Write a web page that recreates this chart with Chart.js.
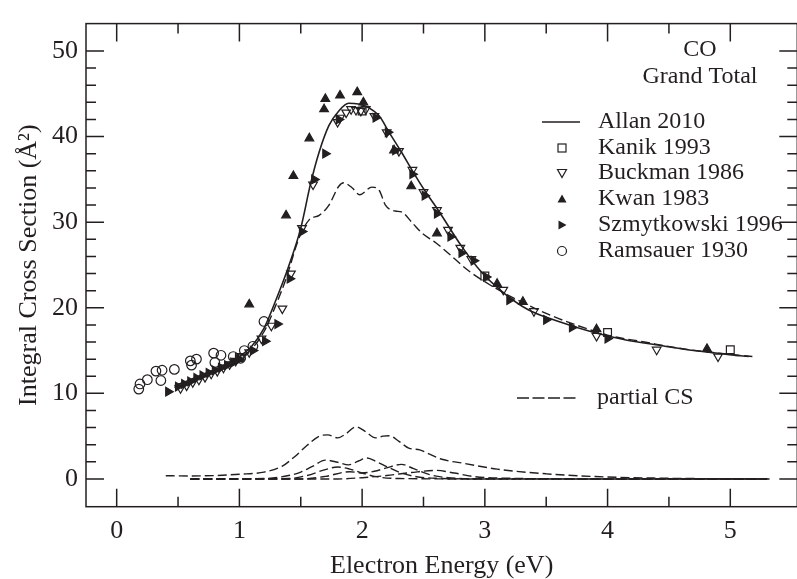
<!DOCTYPE html>
<html>
<head>
<meta charset="utf-8">
<script src="https://cdn.jsdelivr.net/npm/chart.js@4.4.1/dist/chart.umd.min.js"></script>
<style>
html, body { margin: 0; padding: 0; background: #fff; overflow: hidden; }
#wrap { position: relative; width: 804px; height: 579px; }
</style>
</head>
<body>
<div id="wrap"><canvas id="c"></canvas></div>
<script>
// axis ticks
const xTicks = [0, 1, 2, 3, 4, 5];
const xMinor = [0.5, 1.5, 2.5, 3.5, 4.5];
const yTicks = [0, 10, 20, 30, 40, 50];
const yMinor = [2, 4, 6, 8, 12, 14, 16, 18, 22, 24, 26, 28, 32, 34, 36, 38, 42, 44, 46, 48];

// Allan 2010 grand total (solid)
const allanE = [0.47, 0.6, 0.7, 0.8, 0.9, 1.0, 1.1, 1.2, 1.3, 1.4, 1.5, 1.58, 1.65, 1.73, 1.81, 1.89, 1.97, 2.05, 2.14, 2.22, 2.32, 2.41, 2.51, 2.62, 2.81, 2.97, 3.14, 3.35, 3.62, 3.89, 4.16, 4.43, 4.70, 5.08, 5.15];
const allanCS = [10.9, 11.6, 12.2, 12.8, 13.5, 14.3, 15.5, 17.6, 21.0, 24.8, 29.3, 34.5, 38.2, 41.3, 43.0, 43.9, 43.8, 43.4, 42.4, 40.5, 38.2, 36.0, 33.7, 31.4, 27.2, 24.2, 21.9, 19.8, 18.3, 17.1, 16.2, 15.6, 15.0, 14.4, 14.3];

// sum of partial CS (dashed)
const sumE = [0.47, 0.6, 0.7, 0.8, 0.9, 1.0, 1.1, 1.2, 1.3, 1.38, 1.49, 1.57, 1.65, 1.73, 1.81, 1.85, 1.92, 1.98, 2.08, 2.14, 2.19, 2.27, 2.32, 2.41, 2.49, 2.60, 2.70, 2.87, 3.05, 3.24, 3.49, 3.76, 4.03, 4.30, 4.57, 4.84, 5.18];
const sumCS = [10.7, 11.4, 12.0, 12.6, 13.3, 14.1, 15.2, 17.2, 20.4, 23.4, 28.3, 30.3, 30.8, 32.0, 34.2, 34.6, 34.0, 33.2, 34.1, 33.7, 32.0, 31.3, 31.2, 29.9, 28.7, 27.6, 26.4, 24.3, 22.6, 21.1, 19.4, 17.9, 16.7, 16.0, 15.3, 14.8, 14.3];

// partial cross sections
const p1E = [0.40, 0.6, 0.8, 1.0, 1.2, 1.35, 1.45, 1.55, 1.65, 1.72, 1.80, 1.87, 1.95, 2.03, 2.11, 2.17, 2.22, 2.30, 2.38, 2.47, 2.55, 2.65, 2.84, 3.1, 3.5, 3.9, 4.4, 5.0, 5.32];
const p1CS = [0.38, 0.35, 0.4, 0.55, 0.8, 1.5, 2.6, 3.9, 5.0, 5.15, 4.8, 5.3, 6.1, 5.5, 4.8, 5.0, 5.05, 4.4, 3.6, 3.4, 2.9, 2.3, 1.8, 1.15, 0.6, 0.28, 0.1, 0.02, 0.0];
const p2E = [0.6, 1.2, 1.4, 1.5, 1.6, 1.7, 1.8, 1.89, 1.97, 2.04, 2.12, 2.2, 2.3, 2.43, 2.6, 3.0, 5.3];
const p2CS = [0, 0.05, 0.4, 0.8, 1.5, 2.2, 1.95, 1.65, 2.1, 2.45, 2.0, 1.45, 0.8, 0.3, 0.08, 0, 0];
const p3E = [0.6, 1.4, 1.55, 1.7, 1.8, 1.9, 2.0, 2.1, 2.3, 3.0, 5.3];
const p3CS = [0, 0.05, 0.4, 1.1, 1.4, 1.15, 0.7, 0.3, 0.05, 0, 0];
const p4E = [0.6, 1.5, 1.7, 1.9, 2.0, 2.1, 2.2, 2.32, 2.42, 2.55, 2.7, 3.0, 5.3];
const p4CS = [0, 0, 0.3, 0.85, 0.7, 0.9, 1.3, 1.7, 1.2, 0.5, 0.15, 0.02, 0];
const p5E = [0.6, 1.8, 2.0, 2.2, 2.4, 2.6, 2.75, 2.9, 3.2, 4.0, 5.3];
const p5CS = [0, 0, 0.15, 0.4, 0.75, 1.0, 0.7, 0.3, 0.08, 0, 0];

// measurements
const kanikE = [1.0, 2.0, 3.0, 4.0, 5.0];
const kanikCS = [14.2, 43.0, 23.7, 17.1, 15.1];
const buckmanE = [0.52, 0.57, 0.62, 0.67, 0.72, 0.77, 0.82, 0.87, 0.92, 0.97, 1.02, 1.08, 1.18, 1.26, 1.35, 1.42, 1.51, 1.60, 1.80, 1.82, 1.87, 1.91, 1.95, 1.99, 2.03, 2.10, 2.20, 2.30, 2.41, 2.50, 2.61, 2.70, 2.80, 2.89, 3.15, 3.40, 3.91, 4.40, 4.90];
const buckmanCS = [10.6, 10.9, 11.3, 11.6, 11.9, 12.3, 12.6, 13.0, 13.4, 13.8, 14.3, 14.8, 16.4, 17.9, 19.9, 24.0, 29.3, 34.4, 41.7, 42.2, 42.8, 43.2, 43.1, 43.0, 43.2, 42.4, 40.5, 38.3, 36.1, 33.5, 31.4, 29.1, 27.0, 25.7, 22.1, 19.6, 16.7, 15.1, 14.3];
const kwanE = [1.08, 1.38, 1.44, 1.57, 1.69, 1.70, 1.82, 1.96, 2.01, 2.26, 2.40, 2.61, 3.10, 3.31, 3.91, 4.81];
const kwanCS = [20.4, 30.8, 35.4, 39.8, 43.2, 44.4, 44.8, 45.2, 44.0, 38.4, 34.2, 28.7, 22.8, 20.7, 17.5, 15.2];
const szmytE = [0.42, 0.50, 0.55, 0.60, 0.65, 0.70, 0.75, 0.80, 0.85, 0.90, 0.95, 1.00, 1.11, 1.21, 1.31, 1.41, 1.51, 1.61, 1.70, 1.81, 2.11, 2.21, 2.27, 2.41, 2.51, 2.61, 2.72, 2.81, 2.91, 3.01, 3.20, 3.50, 3.71, 4.00];
const szmytCS = [10.2, 10.8, 11.1, 11.4, 11.8, 12.1, 12.4, 12.7, 13.0, 13.3, 13.6, 14.0, 15.0, 16.1, 18.1, 23.4, 28.9, 35.0, 38.0, 42.0, 42.2, 40.5, 38.4, 35.6, 33.1, 31.0, 28.3, 26.4, 25.5, 23.6, 20.9, 18.6, 17.7, 16.4];
const ramsE = [0.18, 0.19, 0.25, 0.32, 0.36, 0.37, 0.47, 0.60, 0.61, 0.65, 0.79, 0.80, 0.85, 0.95, 1.01, 1.04, 1.11, 1.20];
const ramsCS = [10.5, 11.1, 11.6, 12.6, 11.5, 12.7, 12.8, 13.8, 13.3, 14.0, 14.7, 13.6, 14.45, 14.3, 14.1, 15.0, 15.5, 18.4];

const ink = '#231f20';
const serif = '"Liberation Serif", "DejaVu Serif", serif';
const pts = (xs, ys) => xs.map((x, i) => ({ x: x, y: ys[i] }));

function marker(label, xs, ys, style, rotation, filled, radius) {
    return {
        label: label,
        data: pts(xs, ys),
        pointStyle: style,
        rotation: rotation,
        pointRadius: radius,
        pointBorderWidth: 1.2,
        pointBorderColor: ink,
        pointBackgroundColor: filled ? ink : 'rgba(255,255,255,0)',
        showLine: false,
    };
}

function curve(label, xs, ys, dashed) {
    return {
        label: label,
        data: pts(xs, ys),
        showLine: true,
        pointRadius: 0,
        borderColor: ink,
        borderWidth: dashed ? 1.4 : 1.6,
        borderDash: dashed ? [9, 4] : [],
        cubicInterpolationMode: 'monotone',
    };
}

const frame = {
    id: 'frame',
    afterDraw(chart) {
        const { ctx, chartArea: a, scales: { x, y } } = chart;
        ctx.save();
        ctx.strokeStyle = ink;
        ctx.lineWidth = 1.5;
        ctx.strokeRect(a.left, a.top, a.right - a.left, a.bottom - a.top);
        ctx.beginPath();
        const xt = (v, len) => {
            const px = x.getPixelForValue(v);
            ctx.moveTo(px, a.bottom); ctx.lineTo(px, a.bottom - len);
            ctx.moveTo(px, a.top); ctx.lineTo(px, a.top + len);
        };
        const yt = (v, len) => {
            const py = y.getPixelForValue(v);
            ctx.moveTo(a.left, py); ctx.lineTo(a.left + len, py);
            ctx.moveTo(a.right, py); ctx.lineTo(a.right - len, py);
        };
        xTicks.forEach(v => xt(v, 18));
        xMinor.forEach(v => xt(v, 10));
        yTicks.forEach(v => yt(v, 18));
        yMinor.forEach(v => yt(v, 10));
        ctx.stroke();

        // legend
        ctx.fillStyle = ink;
        ctx.font = '24px ' + serif;
        ctx.textBaseline = 'middle';
        ctx.textAlign = 'center';
        ctx.fillText('CO', 700, 50);
        ctx.fillText('Grand Total', 700, 77);
        ctx.textAlign = 'left';
        const rows = ['Allan 2010', 'Kanik 1993', 'Buckman 1986', 'Kwan 1983', 'Szmytkowski 1996', 'Ramsauer 1930'];
        const rowY = [122, 148, 173, 199, 225, 251];
        const sx = 562;
        rows.forEach((t, i) => ctx.fillText(t, 598, rowY[i]));
        ctx.lineWidth = 1.6;
        ctx.beginPath(); ctx.moveTo(542, rowY[0]); ctx.lineTo(580, rowY[0]); ctx.stroke();
        ctx.lineWidth = 1.2;
        ctx.strokeRect(sx - 4, rowY[1] - 4, 8, 8);
        ctx.beginPath();
        ctx.moveTo(sx - 4.5, rowY[2] - 3.5); ctx.lineTo(sx + 4.5, rowY[2] - 3.5); ctx.lineTo(sx, rowY[2] + 4.5); ctx.closePath();
        ctx.stroke();
        ctx.beginPath();
        ctx.moveTo(sx - 4.5, rowY[3] + 3.5); ctx.lineTo(sx + 4.5, rowY[3] + 3.5); ctx.lineTo(sx, rowY[3] - 4.5); ctx.closePath();
        ctx.fill();
        ctx.beginPath();
        ctx.moveTo(sx - 3.5, rowY[4] - 4.5); ctx.lineTo(sx - 3.5, rowY[4] + 4.5); ctx.lineTo(sx + 4.5, rowY[4]); ctx.closePath();
        ctx.fill();
        ctx.beginPath(); ctx.arc(sx, rowY[5], 4.5, 0, Math.PI * 2); ctx.stroke();

        ctx.fillText('partial CS', 597, 398);
        ctx.lineWidth = 1.4;
        ctx.setLineDash([12, 3.5]);
        ctx.beginPath(); ctx.moveTo(517, 398); ctx.lineTo(578, 398); ctx.stroke();
        ctx.restore();
    }
};

const tickFont = { family: serif, size: 26 };
const titleFont = { family: serif, size: 26, lineHeight: 1 };

new Chart(document.getElementById('c').getContext('2d'), {
    type: 'scatter',
    data: {
        datasets: [
            marker('Kanik 1993', kanikE, kanikCS, 'rect', 0, false, 5.5),
            marker('Buckman 1986', buckmanE, buckmanCS, 'triangle', 180, false, 5),
            marker('Kwan 1983', kwanE, kwanCS, 'triangle', 0, true, 5),
            marker('Szmytkowski 1996', szmytE, szmytCS, 'triangle', 90, true, 5),
            marker('Ramsauer 1930', ramsE, ramsCS, 'circle', 0, false, 4.8),
            curve('Allan 2010', allanE, allanCS, false),
            curve('sum', sumE, sumCS, true),
            curve('partial 1', p1E, p1CS, true),
            curve('partial 2', p2E, p2CS, true),
            curve('partial 3', p3E, p3CS, true),
            curve('partial 4', p4E, p4CS, true),
            curve('partial 5', p5E, p5CS, true),
        ],
    },
    options: {
        responsive: true,
        maintainAspectRatio: false,
        animation: false,
        events: [],
        layout: { padding: { left: 0, top: 12, right: 3.5, bottom: 0 } },
        plugins: {
            legend: { display: false },
            tooltip: { enabled: false },
        },
        scales: {
            x: {
                type: 'linear',
                min: -0.25,
                max: 5.546,
                afterBuildTicks: s => { s.ticks = xTicks.map(v => ({ value: v })); },
                afterFit: s => { s.height = 72.3; },
                ticks: { font: tickFont, color: ink, padding: 9 },
                grid: { display: false, drawTicks: false },
                border: { display: false },
                title: { display: true, text: 'Electron Energy (eV)', font: titleFont, color: ink, padding: { top: 0, bottom: 0 } },
            },
            y: {
                type: 'linear',
                min: -3.24,
                max: 53.2,
                afterBuildTicks: s => { s.ticks = yTicks.map(v => ({ value: v })); },
                afterFit: s => { s.width = 86; },
                ticks: { font: tickFont, color: ink, padding: 8 },
                grid: { display: false, drawTicks: false },
                border: { display: false },
                title: { display: true, text: 'Integral Cross Section (Å²)', font: titleFont, color: ink, padding: { top: 16, bottom: 0 } },
            },
        },
    },
    plugins: [frame],
});
</script>
</body>
</html>
